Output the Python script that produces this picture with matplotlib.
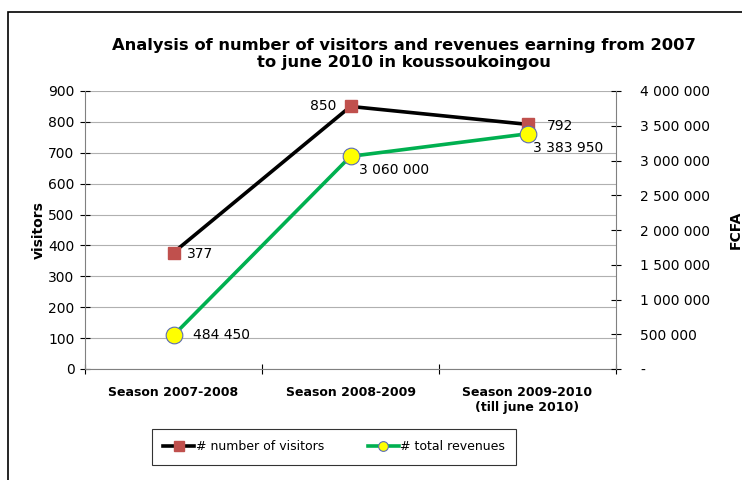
import matplotlib
matplotlib.use("Agg")
import matplotlib.pyplot as plt
import matplotlib.patches as mpatches
from matplotlib.ticker import FuncFormatter, MultipleLocator, FixedLocator
from matplotlib.lines import Line2D

plt.rcParams["font.family"] = ["DejaVu Sans"]

seasons = ["Season 2007-2008", "Season 2008-2009", "Season 2009-2010\n(till june 2010)"]
visitors = [377, 850, 792]
revenues = [484450, 3060000, 3383950]

fig = plt.figure(figsize=(7.42, 4.80), dpi=100)
fig.patch.set_facecolor("white")

# outer frame (chart area border)
fig.patches.append(mpatches.Rectangle((8 / 742, -0.01), 1.0, 1 - 12 / 480 + 0.01,
                                      transform=fig.transFigure, fill=False,
                                      edgecolor="black", linewidth=1.2))

ax = fig.add_axes([85 / 742, 1 - 369 / 480, (616 - 85) / 742, (369 - 91) / 480])
ax2 = ax.twinx()

x = list(range(len(seasons)))

# left axis: visitors
ax.set_xlim(-0.5, 2.5)
ax.set_ylim(0, 900)
ax.yaxis.set_major_locator(MultipleLocator(100))
ax.grid(axis="y", color="#b0b0b0", linewidth=0.8)
ax.set_axisbelow(True)
ax.xaxis.set_major_locator(FixedLocator([-0.5, 0.5, 1.5, 2.5]))
ax.xaxis.set_major_formatter(FuncFormatter(lambda v, p: ""))
ax.xaxis.set_minor_locator(FixedLocator(x))
ax.set_xticklabels(seasons, minor=True, fontsize=9, fontweight="bold")
ax.tick_params(axis="x", which="minor", length=0, pad=12)
ax.tick_params(axis="x", which="major", direction="inout", length=7, width=0.8)
ax.tick_params(axis="y", direction="inout", length=7, width=0.8, labelsize=10, pad=4)
ax.set_ylabel("visitors", fontsize=10, fontweight="bold", labelpad=2)
for s in ["top", "right"]:
    ax.spines[s].set_visible(False)
ax.spines["left"].set_color("#808080")
ax.spines["bottom"].set_color("#808080")

# right axis: revenues
ax2.set_ylim(0, 4000000)
ax2.yaxis.set_major_locator(MultipleLocator(500000))
ax2.yaxis.set_major_formatter(FuncFormatter(
    lambda v, p: "-" if v == 0 else f"{int(v):,}".replace(",", " ")))
ax2.tick_params(axis="y", direction="inout", length=7, width=0.8, labelsize=10, pad=14)
ax2.set_ylabel("FCFA", fontsize=10, fontweight="bold", labelpad=13)
for s in ["top", "left", "bottom"]:
    ax2.spines[s].set_visible(False)
ax2.spines["right"].set_color("#808080")

ax.plot(x, visitors, color="black", linewidth=2.6, marker="s", markersize=8,
        markerfacecolor="#C0504D", markeredgecolor="#C0504D", zorder=3)
ax2.plot(x, revenues, color="#00B050", linewidth=2.6, marker="o", markersize=12,
         markerfacecolor="#FFFF00", markeredgecolor="#5B6BB5", markeredgewidth=0.8, zorder=3)

# data labels
vis_off = [(10, -1), (-10, 0), (14, -1)]
vis_ha = ["left", "right", "left"]
for xi, v, off, ha in zip(x, visitors, vis_off, vis_ha):
    ax.annotate(f"{v}", (xi, v), xytext=off, textcoords="offset points",
                ha=ha, va="center", fontsize=10)
rev_off = [(14, 0), (6, -10), (4, -10)]
for xi, r, off in zip(x, revenues, rev_off):
    ax2.annotate(f"{r:,}".replace(",", " "), (xi, r), xytext=off,
                 textcoords="offset points", ha="left", va="center", fontsize=10)

fig.text(404 / 742, 1 - 54 / 480,
         "Analysis of number of visitors and revenues earning from 2007\nto june 2010 in koussoukoingou",
         ha="center", va="center", fontsize=11.8, fontweight="bold", linespacing=1.1)

handles = [
    Line2D([], [], color="black", linewidth=2.6, marker="s", markersize=7,
           markerfacecolor="#C0504D", markeredgecolor="#C0504D"),
    Line2D([], [], color="#00B050", linewidth=2.6, marker="o", markersize=7,
           markerfacecolor="#FFFF00", markeredgecolor="#5B6BB5", markeredgewidth=0.8),
]
leg = fig.legend(handles, ["# number of visitors", "# total revenues"],
                 loc="center", bbox_to_anchor=(334 / 742, 1 - 447 / 480), ncol=2,
                 fontsize=9, frameon=True, fancybox=False, handlelength=2.5,
                 handletextpad=0.1, columnspacing=3.5, borderpad=0.9,
                 borderaxespad=0)
leg.get_frame().set_edgecolor("black")
leg.get_frame().set_linewidth(0.8)

plt.savefig("out.png", dpi=100, facecolor="white")
